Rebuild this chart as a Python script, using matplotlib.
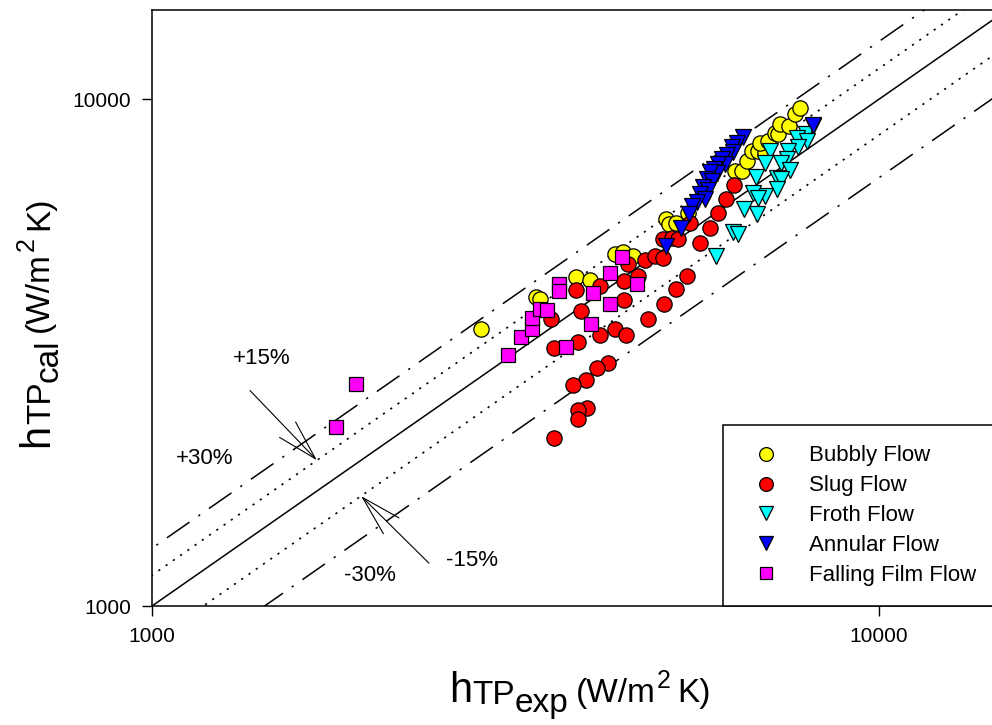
import matplotlib
matplotlib.use("Agg")
import matplotlib.pyplot as plt
import numpy as np
from matplotlib.ticker import FixedLocator, FixedFormatter, NullLocator
from matplotlib.transforms import IdentityTransform

plt.rcParams['font.family'] = ['Liberation Sans', 'DejaVu Sans']

# ---- data: experimental vs calculated two-phase heat transfer coefficient (W/m2 K)
bubbly_exp = [2835, 3375, 3418, 3831, 4004, 4334, 4445, 4588, 5093, 5142, 5258, 5462, 5727,
              6339, 6482, 6585, 6690, 6818, 6970, 6860, 7036, 7194, 7263, 7309, 7520, 7664, 7786]
bubbly_cal = [3525, 4076, 4040, 4463, 4403, 4953, 4998, 4909, 5805, 5675, 5701, 5965, 6501,
              7217, 7217, 7551, 7900, 7900, 7829, 8191, 8266, 8573, 8534, 8928, 8849, 9343, 9602]

slug_exp = [3539, 3573, 3855, 3892, 3831, 4132, 4132, 4334, 4487, 4459, 4459, 4516, 4661, 4765,
            4919, 5045, 5045, 5192, 5291, 5444, 5258, 5061, 4811, 4239, 4094, 3954, 3794, 3967,
            3855, 3855, 3573, 5673, 5495, 5855, 6005, 6160, 6318]
slug_cal = [3689, 3235, 3325, 3825, 4207, 4284, 3432, 3525, 3432, 4383, 4021, 4733, 4484, 4820,
            4909, 4864, 5302, 5326, 5302, 4484, 4227, 3949, 3689, 3022, 2954, 2798, 2735, 2454,
            2431, 2334, 2141, 5206, 5701, 5574, 5965, 6356, 6771]

froth_exp = [8113, 7936, 7713, 7962, 7737, 7081, 7496, 7472, 7331, 6970, 7544, 7240, 7331, 6773,
             7240, 6970, 6709, 6818, 6523, 6795, 6298, 6399, 5968]
froth_cal = [8849, 8534, 8380, 8266, 8045, 7900, 7900, 7619, 7482, 7482, 7249, 6992, 6960, 7024,
             6648, 6443, 6531, 6384, 6074, 5938, 5472, 5423, 4909]

annular_exp = [8113, 6502, 6378, 6278, 6298, 6180, 6083, 6142, 6005, 5930, 5987, 5855, 5800,
               5892, 5727, 5818, 5673, 5764, 5619, 5530, 5479, 5342, 5093]
annular_cal = [8889, 8419, 8191, 8045, 7864, 7758, 7619, 7447, 7447, 7282, 7151, 7183, 6960,
               6897, 6709, 6619, 6501, 6356, 6270, 6158, 5938, 5574, 5135]

film_exp = [1908, 1791, 3088, 3218, 3332, 3332, 3418, 3494, 3630, 3630, 3711, 4017, 4043, 4266,
            4266, 4431, 4647]
film_cal = [2748, 2251, 3134, 3401, 3525, 3706, 3860, 3843, 4324, 4188, 3250, 3607, 4151, 4545,
            3949, 4887, 4324]

series_labels = ['Bubbly Flow', 'Slug Flow', 'Froth Flow', 'Annular Flow', 'Falling Film Flow']
series_markers = ['o', 'o', 'v', 'v', 's']
series_colors = ['#FFFF00', '#FF0000', '#00FFFF', '#0000FF', '#FF00FF']

axis_limits = [1000, 15000]
tick_values = [1000, 10000]
tick_labels = ['1000', '10000']

# deviation bands: ratio of calculated to experimental value
band_ratios = [1.0, 1.15, 0.85, 1.30, 0.70]

# ---- figure
W, H = 992, 725
fig = plt.figure(figsize=(W / 100, H / 100), dpi=100)
ax = fig.add_axes([152 / W, 119 / H, 855 / W, 596 / H])
ax.set_xscale('log')
ax.set_yscale('log')
ax.set_xlim(axis_limits)
ax.set_ylim(axis_limits)

xx = np.array([500.0, 30000.0])
band_styles = {
    1.0: dict(linestyle='-', linewidth=1.1),
    1.15: dict(linestyle=(0, (1.3, 4.0)), linewidth=1.2),
    0.85: dict(linestyle=(0, (1.3, 4.0)), linewidth=1.2),
    1.30: dict(linestyle=(0, (18, 7, 1.5, 7)), linewidth=1.1),
    0.70: dict(linestyle=(0, (18, 7, 1.5, 7)), linewidth=1.1),
}
for r in band_ratios:
    ax.plot(xx, r * xx, color='black', zorder=1, **band_styles[r])

all_x = [bubbly_exp, slug_exp, froth_exp, annular_exp, film_exp]
all_y = [bubbly_cal, slug_cal, froth_cal, annular_cal, film_cal]
handles = []
for xs, ys, lab, mk, col in zip(all_x, all_y, series_labels, series_markers, series_colors):
    ms = 11 if mk == 'o' else (11.5 if mk == 'v' else 10)
    h, = ax.plot(xs, ys, linestyle='none', marker=mk, markersize=ms,
                 markerfacecolor=col, markeredgecolor='black', markeredgewidth=0.9,
                 label=lab, zorder=3)
    handles.append(h)

# ---- axes styling
for side in ['left', 'bottom', 'top', 'right']:
    ax.spines[side].set_linewidth(1.1)
for axis in (ax.xaxis, ax.yaxis):
    axis.set_major_locator(FixedLocator(tick_values))
    axis.set_major_formatter(FixedFormatter(tick_labels))
    axis.set_minor_locator(NullLocator())
ax.tick_params(which='major', direction='out', length=7, width=1.0,
               labelsize=15, pad=8, top=False, right=False)

# ---- band annotations
ax.text(1417, 3077, '+15%', fontsize=16, ha='center', va='center')
ax.text(1183, 1956, '+30%', fontsize=16, ha='center', va='center')
ax.text(1995, 1151, '-30%', fontsize=16, ha='center', va='center')
ax.text(2755, 1232, '-15%', fontsize=16, ha='center', va='center')

arrow_kw = dict(arrowstyle='->,head_length=2.9,head_width=0.8', color='black',
                lw=0.8, mutation_scale=10, shrinkA=0, shrinkB=0)
tip_up = 1686
ax.annotate('', xy=(tip_up, 1.15 * tip_up), xytext=(1364, 2662), arrowprops=arrow_kw)
tip_dn = 1939
ax.annotate('', xy=(tip_dn, 0.85 * tip_dn), xytext=(2404, 1215), arrowprops=arrow_kw)

# ---- legend
leg = ax.legend(handles=handles, loc='lower left',
                bbox_to_anchor=(723 / W, 119 / H), bbox_transform=fig.transFigure,
                borderaxespad=0, fontsize=16, borderpad=0.9, handlelength=2.1,
                handletextpad=0.85, labelspacing=0.4, markerscale=0.9,
                fancybox=False, framealpha=1, edgecolor='black')
leg.get_frame().set_linewidth(1.1)


# ---- axis titles with sub/superscripts
def rich_label(chunks, along, base, vertical=False):
    renderer = fig.canvas.get_renderer()
    widths = []
    for s, size, shift, gap in chunks:
        t = fig.text(0, 0, s, fontsize=size)
        widths.append(t.get_window_extent(renderer).width)
        t.remove()
    total = sum(widths) + sum(c[3] for c in chunks)
    pos = along - total / 2
    for (s, size, shift, gap), w in zip(chunks, widths):
        if vertical:
            fig.text(base + shift, pos, s, fontsize=size, rotation=90,
                     rotation_mode='anchor', ha='left', va='baseline',
                     transform=IdentityTransform())
        else:
            fig.text(pos, base - shift, s, fontsize=size, ha='left', va='baseline',
                     transform=IdentityTransform())
        pos += w + gap


xlabel_parts = [('h', 30, 0, 0), ('TP', 24, 2, 0), ('exp', 24, 10, 7),
                ('(W/m', 24, 0, 1), ('2', 18, -14, 7), ('K)', 24, 0, 0)]
ylabel_parts = [('h', 30, 0, 0), ('TP', 24, 2, 0), ('cal', 24, 10, 7),
                ('(W/m', 24, 0, 1), ('2', 18, -14, 7), ('K)', 24, 0, 0)]
rich_label(xlabel_parts, 580, H - 702)
rich_label(ylabel_parts, H - 322, 48, vertical=True)

fig.savefig('out.png', dpi=100)
